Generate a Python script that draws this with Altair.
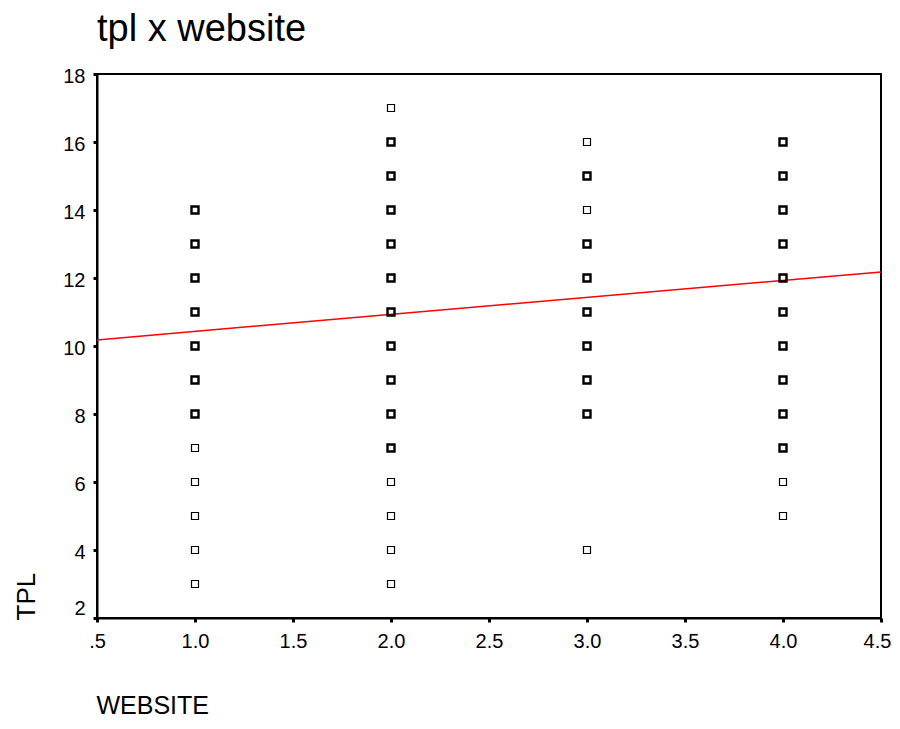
import altair as alt
import pandas as pd

# Scatter data: y values per WEBSITE category, and whether the marker is drawn bold (overlapping cases)
web1_y = [14, 13, 12, 11, 10, 9, 8, 7, 6, 5, 4, 3]
web1_bold = [1, 1, 1, 1, 1, 1, 1, 0, 0, 0, 0, 0]
web2_y = [17, 16, 15, 14, 13, 12, 11, 10, 9, 8, 7, 6, 5, 4, 3]
web2_bold = [0, 1, 1, 1, 1, 1, 1, 1, 1, 1, 1, 0, 0, 0, 0]
web3_y = [16, 15, 14, 13, 12, 11, 10, 9, 8, 4]
web3_bold = [0, 1, 0, 1, 1, 1, 1, 1, 1, 0]
web4_y = [16, 15, 14, 13, 12, 11, 10, 9, 8, 7, 6, 5]
web4_bold = [1, 1, 1, 1, 1, 1, 1, 1, 1, 1, 0, 0]

# Fit line endpoints
fit_x = [0.5, 4.5]
fit_y = [10.18, 12.18]

x_ticks = [0.5, 1.0, 1.5, 2.0, 2.5, 3.0, 3.5, 4.0, 4.5]
y_ticks = [2, 4, 6, 8, 10, 12, 14, 16, 18]

rows = []
for xv, ys, bs in [(1.0, web1_y, web1_bold), (2.0, web2_y, web2_bold),
                   (3.0, web3_y, web3_bold), (4.0, web4_y, web4_bold)]:
    for yv, b in zip(ys, bs):
        rows.append({"WEBSITE": xv, "TPL": yv, "bold": b})
pts = pd.DataFrame(rows)
fit = pd.DataFrame({"WEBSITE": fit_x, "TPL": fit_y})

FONT = "Liberation Sans"

xscale = alt.Scale(domain=[0.5, 4.5], nice=False, zero=False)
yscale = alt.Scale(domain=[2, 18], nice=False, zero=False)

xaxis = alt.Axis(
    values=x_ticks,
    labelExpr="datum.value == 0.5 ? '.5' : format(datum.value, '.1f')",
    grid=False, domainColor="black", domainWidth=2,
    tickColor="black", tickSize=4, tickWidth=3,
    labelFont=FONT, labelFontSize=20, labelColor="black", labelPadding=9,
    labelFlush=False, labelOverlap=False,
    labelOffset={"condition": {"test": "datum.value == 4.5", "value": -4}, "value": 0},
    title="WEBSITE", titleFont=FONT, titleFontSize=25, titleFontWeight="normal",
    titleColor="black", titleAnchor="start", titleAlign="left",
    titleBaseline="alphabetic", titleX=-1, titleY=95,
)
yaxis = alt.Axis(
    values=y_ticks, format="d",
    grid=False, domainColor="black", domainWidth=2,
    tickColor="black", tickSize=4, tickWidth=3,
    labelFont=FONT, labelFontSize=20, labelColor="black", labelPadding=8,
    labelFlush=False, labelOverlap=False,
    labelOffset={"condition": {"test": "datum.value == 2", "value": -10}, "value": 2},
    title="TPL", titleFont=FONT, titleFontSize=26, titleFontWeight="normal",
    titleColor="black", titleAngle=-90, titleAlign="left",
    titleBaseline="alphabetic", titleX=-63, titleY=546,
)

points = alt.Chart(pts).mark_point(
    shape="square", size=49, filled=False, color="black", opacity=1
).encode(
    x=alt.X("WEBSITE:Q", scale=xscale, axis=xaxis),
    y=alt.Y("TPL:Q", scale=yscale, axis=yaxis),
    strokeWidth=alt.StrokeWidth("bold:Q", scale=alt.Scale(domain=[0, 1], range=[1.2, 2.4]), legend=None),
)

line = alt.Chart(fit).mark_line(color="red", strokeWidth=1.5).encode(
    x=alt.X("WEBSITE:Q", scale=xscale),
    y=alt.Y("TPL:Q", scale=yscale),
)

chart = alt.layer(line, points).properties(
    width=784, height=544,
    background="white",
    title=alt.TitleParams(
        text="tpl x website", anchor="start", frame="group", fontSize=38,
        font=FONT, fontWeight="normal", color="black", offset=17,
    ),
    padding={"left": 89, "top": 66, "right": 11, "bottom": 100},
    autosize=alt.AutoSizeParams(type="none"),
).configure_view(
    stroke="black", strokeWidth=2
)

chart.save("out.html", embed_options={"renderer": "svg", "actions": False})
